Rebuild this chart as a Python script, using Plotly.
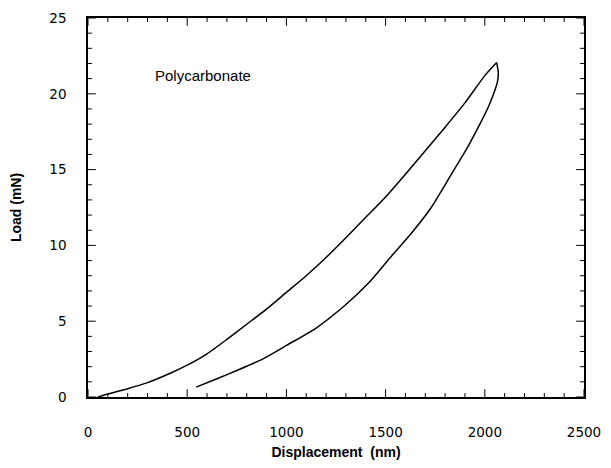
import plotly.graph_objects as go

# Loading branch of the indentation curve (displacement in nm, load in mN)
load_disp = [50, 100, 200, 300, 420, 500, 600, 700, 800, 900, 1000, 1100,
             1200, 1300, 1400, 1500, 1600, 1700, 1800, 1900, 2000, 2060]
load_force = [0.0, 0.2, 0.55, 0.95, 1.6, 2.1, 2.85, 3.8, 4.8, 5.8, 6.9, 8.0,
              9.2, 10.5, 11.85, 13.2, 14.7, 16.25, 17.8, 19.4, 21.2, 22.06]

# Unloading branch, from the peak back down
unload_disp = [2060, 2068, 2064, 2050, 2020, 1975, 1910, 1850, 1800, 1730,
               1630, 1530, 1420, 1300, 1150, 1000, 880, 750, 650, 545]
unload_force = [22.06, 21.4, 20.8, 20.2, 19.2, 18.0, 16.4, 15.1, 14.0, 12.5,
                10.8, 9.3, 7.6, 6.1, 4.55, 3.4, 2.5, 1.75, 1.2, 0.65]

x_ticks = [0, 500, 1000, 1500, 2000, 2500]
y_ticks = [0, 5, 10, 15, 20, 25]
x_minor_step = 100
y_minor_step = 1
sample_label = "Polycarbonate"

text_font = "Liberation Sans, Arial, Helvetica, sans-serif"
tick_font = "DejaVu Sans, Liberation Sans, sans-serif"
x_range = [0, 2500]
y_range = [0, 25]

W, H = 611, 468
margin = dict(l=88, r=14, t=10, b=71)
major_px, minor_px = 8, 4

fig = go.Figure()
for xs, ys in [(load_disp, load_force), (unload_disp, unload_force)]:
    fig.add_trace(go.Scatter(
        x=xs, y=ys, mode="lines",
        line=dict(color="black", width=1.5, shape="spline", smoothing=0.6),
        showlegend=False, hoverinfo="skip",
    ))

# Inward tick marks on all four sides, sized in pixels via the axis scale
nm_per_px = (x_range[1] - x_range[0]) / (W - margin["l"] - margin["r"])
mn_per_px = (y_range[1] - y_range[0]) / (H - margin["t"] - margin["b"])

def frange(lo, hi, step):
    vals, v = [], lo
    while v <= hi + 1e-9:
        vals.append(round(v, 6))
        v += step
    return vals

tx, ty = [], []
for xv in frange(x_range[0], x_range[1], x_minor_step):
    h = (major_px if xv in x_ticks else minor_px) * mn_per_px
    tx += [xv, xv, None, xv, xv, None]
    ty += [y_range[0], y_range[0] + h, None, y_range[1], y_range[1] - h, None]
for yv in frange(y_range[0], y_range[1], y_minor_step):
    w = (major_px if yv in y_ticks else minor_px) * nm_per_px
    tx += [x_range[0], x_range[0] + w, None, x_range[1], x_range[1] - w, None]
    ty += [yv, yv, None, yv, yv, None]
fig.add_trace(go.Scatter(x=tx, y=ty, mode="lines",
                         line=dict(color="black", width=1),
                         showlegend=False, hoverinfo="skip"))

fig.add_annotation(
    x=330, y=21.2, xref="x", yref="y", text=sample_label,
    showarrow=False, xanchor="left", yanchor="middle",
    font=dict(family=text_font, size=15, color="black"),
)

# Frame, numbers and titles (transparent outward ticks set the label gap)
labels = dict(showgrid=False, zeroline=False, showline=True, linecolor="black",
              linewidth=1.5, mirror=True, ticks="outside",
              tickcolor="rgba(0,0,0,0)",
              tickfont=dict(family=tick_font, size=13.5, color="black"))
fig.update_layout(
    xaxis=dict(range=x_range, tickvals=x_ticks, ticklen=22,
               ticklabeloverflow="allow",
               title=dict(text="<b>Displacement  (nm)</b>", standoff=8,
                          font=dict(family=text_font, size=14, color="black")),
               **labels),
    yaxis=dict(range=y_range, tickvals=y_ticks, ticklen=17,
               title=dict(text="<b>Load (mN)</b>", standoff=24,
                          font=dict(family=text_font, size=14, color="black")),
               **labels),
)

fig.update_layout(
    width=W, height=H, margin=margin,
    paper_bgcolor="white", plot_bgcolor="white",
)

fig.write_html("out.html")
